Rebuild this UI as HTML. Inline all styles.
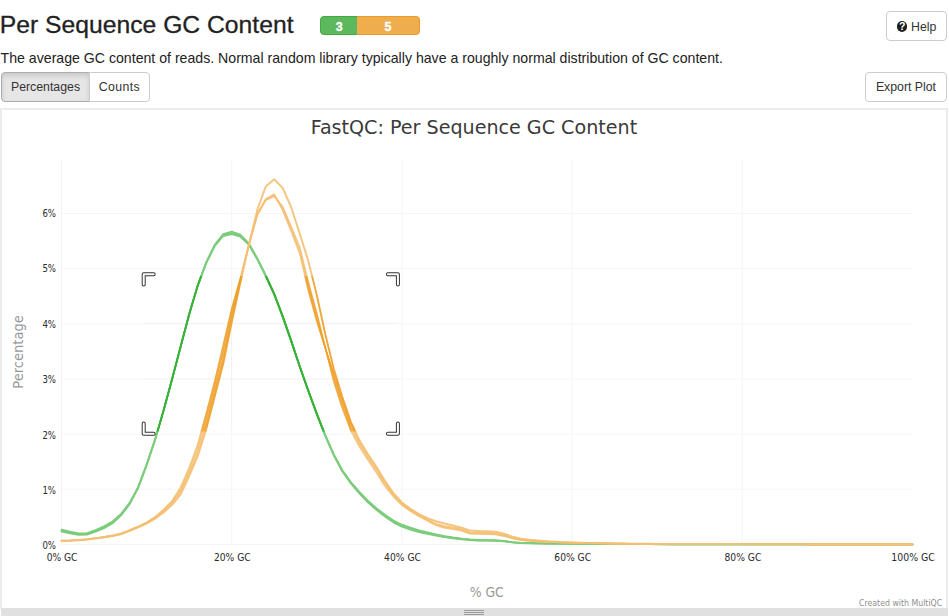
<!DOCTYPE html>
<html lang="en"><head><meta charset="utf-8"><title>Per Sequence GC Content</title>
<style>
html,body{margin:0;padding:0;background:#fff;}
body{width:949px;height:616px;overflow:hidden;position:relative;font-family:"Liberation Sans",Arial,Helvetica,sans-serif;color:#333;}
.abs{position:absolute;margin:0;white-space:nowrap;line-height:1;}
h3.title{left:-0.2px;top:13.3px;font-size:24.7px;font-weight:normal;color:#222;-webkit-text-stroke:0.3px #222;}
.status{left:320.3px;top:15.6px;width:99.6px;height:19.3px;border-radius:4px;overflow:hidden;display:flex;}
.status span{display:block;height:100%;box-sizing:border-box;color:#fff;font-weight:bold;font-size:12.5px;line-height:20.4px;text-align:center;-webkit-text-stroke:0.35px #fff;}
.status .s1{width:36.8px;background:#5cb85c;border:1px solid #3faa3f;border-right:0;border-radius:4px 0 0 4px;}
.status .s2{width:62.8px;background:#f0ad4e;border:1px solid #e89c25;border-left:0;border-radius:0 4px 4px 0;}
.btn{position:absolute;box-sizing:border-box;background:#fff;border:1px solid #ccc;border-radius:4px;font-size:12.3px;line-height:18px;padding:5px 10px;color:#333;white-space:nowrap;font-family:"Liberation Sans",Arial,sans-serif;}
.help{left:885.7px;top:11.3px;width:60.9px;height:29.5px;padding:0;}
.help .tx{position:absolute;left:24.4px;top:8.8px;line-height:1;}
.help .ic{position:absolute;left:10.0px;top:8.6px;width:10.8px;height:10.8px;border-radius:50%;background:#1e1e1e;color:#fff;font-weight:bold;font-size:10.5px;line-height:10.6px;text-align:center;}
p.desc{left:0.6px;top:50.75px;font-size:14.14px;color:#222;}
.grp{position:absolute;left:0.6px;top:71.5px;height:30.3px;display:flex;}
.grp .btn{position:static;height:30.3px;padding-top:5.4px;}
.grp .b1{width:89.6px;padding-left:9.4px;background:#e6e6e6;border-color:#adadad;border-radius:4px 0 0 4px;box-shadow:inset 0 3px 5px rgba(0,0,0,.125);}
.grp .b2{width:60.8px;margin-left:-1px;border-radius:0 4px 4px 0;padding-left:8.6px;letter-spacing:0.38px;}
.export{left:864.9px;top:71.5px;width:81.7px;height:30.3px;padding-left:10px;padding-top:5.4px;}
.plot{position:absolute;left:0;top:108px;width:947.5px;height:500.5px;box-sizing:border-box;border:2px solid #ececec;border-bottom:0;}
.handle{position:absolute;left:1px;top:608.3px;width:946.5px;height:10px;background:#e0e0e0;}
.handle i{position:absolute;left:462.8px;width:20px;height:1px;background:#9a9a9a;}
svg.chart{position:absolute;left:0;top:0;}
.chart text{font-family:"DejaVu Sans",Verdana,sans-serif;}
.chart .ttl{font-size:19.6px;fill:#3a3a3a;}
.grid line{stroke:#f0f0f0;stroke-width:1;}
polyline{fill:none;stroke-width:2;stroke-linejoin:round;stroke-linecap:round;}
polyline.g{stroke:#38b238;stroke-width:1.75;}
polyline.o{stroke:#ef9e28;stroke-width:1.6;stroke-opacity:.85;}
polyline.oa{stroke-width:1.9;stroke-opacity:.92;}
.ov{fill:#fff;fill-opacity:.34;}
.brO{fill:none;stroke:#333;stroke-width:4;stroke-linecap:round;stroke-linejoin:round;}
.brI{fill:none;stroke:#fff;stroke-width:2;stroke-linecap:round;stroke-linejoin:round;}
.yl text,.xl text{font-size:10.5px;fill:#2a2a2a;}
.ax{font-size:13.5px;fill:#999;}
.cred{font-size:9px;fill:#8e8e8e;}
</style></head><body>
<h3 class="abs title">Per Sequence GC Content</h3>
<div class="abs status"><span class="s1">3</span><span class="s2">5</span></div>
<div class="btn help"><span class="ic">?</span><span class="tx">Help</span></div>
<p class="abs desc">The average GC content of reads. Normal random library typically have a roughly normal distribution of GC content.</p>
<div class="grp"><div class="btn b1">Percentages</div><div class="btn b2">Counts</div></div>
<div class="btn export">Export Plot</div>
<div class="plot"></div>
<div class="handle"><i style="top:1.5px"></i><i style="top:3.7px"></i><i style="top:5.8px"></i></div>
<svg class="chart" width="949" height="616" viewBox="0 0 949 616">
<text class="ttl" x="473.9" y="134.3" text-anchor="middle" textLength="326.5" lengthAdjust="spacingAndGlyphs">FastQC: Per Sequence GC Content</text>
<g class="grid"><line x1="61.5" x2="912.8" y1="544.4" y2="544.4"/><line x1="61.5" x2="912.8" y1="489.2" y2="489.2"/><line x1="61.5" x2="912.8" y1="434.1" y2="434.1"/><line x1="61.5" x2="912.8" y1="378.9" y2="378.9"/><line x1="61.5" x2="912.8" y1="323.8" y2="323.8"/><line x1="61.5" x2="912.8" y1="268.6" y2="268.6"/><line x1="61.5" x2="912.8" y1="213.5" y2="213.5"/><line x1="61.5" x2="61.5" y1="159.3" y2="544.4"/><line x1="231.7" x2="231.7" y1="159.3" y2="544.4"/><line x1="401.9" x2="401.9" y1="159.3" y2="544.4"/><line x1="572.1" x2="572.1" y1="159.3" y2="544.4"/><line x1="742.3" x2="742.3" y1="159.3" y2="544.4"/></g>
<g class="lines"><polyline class="g" points="61.50,529.67 70.01,531.72 78.52,533.40 87.03,533.13 95.54,530.03 104.05,526.30 112.56,521.43 121.07,513.83 129.58,502.91 138.09,487.04 146.60,464.46 155.11,439.13 163.62,409.97 172.13,378.54 180.64,346.24 189.15,314.02 197.66,285.25 206.17,262.32 214.68,244.81 223.19,233.97 231.70,231.50 240.21,234.55 248.72,243.09 257.23,258.11 265.74,275.11 274.25,293.65 282.76,316.14 291.27,340.65 299.78,366.16 308.29,390.22 316.80,413.34 325.31,435.00 333.82,454.34 342.33,470.15 350.84,482.02 359.35,491.88 367.86,500.63 376.37,508.13 384.88,514.71 393.39,520.48 401.90,524.68 410.41,527.68 418.92,530.26 427.43,532.41 435.94,534.28 444.45,536.00 452.96,537.47 461.47,538.57 469.98,539.41 478.49,539.96 487.00,540.11 495.51,540.24 504.02,540.99 512.53,542.17 521.04,542.91 529.55,543.14 538.06,543.32 546.57,543.46 555.08,543.57 563.59,543.66 572.10,543.74 580.61,543.81 589.12,543.87 597.63,543.94 606.14,544.00 614.65,544.05 623.16,544.10 631.67,544.14 640.18,544.18 648.69,544.20 657.20,544.22 665.71,544.23 674.22,544.25 682.73,544.26 691.24,544.27 699.75,544.28 708.26,544.29 716.77,544.30 725.28,544.31 733.79,544.31 742.30,544.32 750.81,544.33 759.32,544.34 767.83,544.34 776.34,544.35 784.85,544.36 793.36,544.36 801.87,544.37 810.38,544.37 818.89,544.38 827.40,544.38 835.91,544.38 844.42,544.39 852.93,544.39 861.44,544.39 869.95,544.40 878.46,544.40 886.97,544.40 895.48,544.40 903.99,544.40 912.50,544.40"/><polyline class="g" points="61.50,531.56 70.01,533.37 78.52,535.00 87.03,534.72 95.54,531.75 104.05,528.31 112.56,523.25 121.07,515.41 129.58,504.27 138.09,488.16 146.60,465.41 155.11,440.03 163.62,410.79 172.13,379.36 180.64,347.02 189.15,314.84 197.66,286.16 206.17,263.41 214.68,246.16 223.19,236.04 231.70,234.10 240.21,236.57 248.72,244.58 257.23,259.34 265.74,276.27 274.25,294.73 282.76,317.10 291.27,341.59 299.78,367.09 308.29,391.20 316.80,414.33 325.31,436.07 333.82,455.49 342.33,471.48 350.84,483.50 359.35,493.44 367.86,502.28 376.37,509.88 384.88,516.50 393.39,522.39 401.90,526.79 410.41,529.75 418.92,532.06 427.43,533.97 435.94,535.61 444.45,537.11 452.96,538.41 461.47,539.37 469.98,540.11 478.49,540.59 487.00,540.73 495.51,540.84 504.02,541.45 512.53,542.47 521.04,543.13 529.55,543.32 538.06,543.47 546.57,543.59 555.08,543.69 563.59,543.77 572.10,543.83 580.61,543.89 589.12,543.95 597.63,544.00 606.14,544.06 614.65,544.10 623.16,544.14 631.67,544.18 640.18,544.21 648.69,544.23 657.20,544.25 665.71,544.26 674.22,544.27 682.73,544.28 691.24,544.29 699.75,544.30 708.26,544.30 716.77,544.31 725.28,544.32 733.79,544.33 742.30,544.33 750.81,544.34 759.32,544.35 767.83,544.35 776.34,544.36 784.85,544.36 793.36,544.37 801.87,544.37 810.38,544.38 818.89,544.38 827.40,544.38 835.91,544.39 844.42,544.39 852.93,544.39 861.44,544.39 869.95,544.40 878.46,544.40 886.97,544.40 895.48,544.40 903.99,544.40 912.50,544.40"/><polyline class="g" points="61.50,530.61 70.01,532.54 78.52,534.20 87.03,533.92 95.54,530.89 104.05,527.30 112.56,522.34 121.07,514.62 129.58,503.59 138.09,487.60 146.60,464.93 155.11,439.58 163.62,410.38 172.13,378.95 180.64,346.63 189.15,314.43 197.66,285.71 206.17,262.87 214.68,245.49 223.19,235.01 231.70,232.80 240.21,235.56 248.72,243.83 257.23,258.72 265.74,275.69 274.25,294.19 282.76,316.62 291.27,341.12 299.78,366.62 308.29,390.71 316.80,413.84 325.31,435.53 333.82,454.91 342.33,470.82 350.84,482.76 359.35,492.66 367.86,501.45 376.37,509.01 384.88,515.61 393.39,521.44 401.90,525.74 410.41,528.72 418.92,531.16 427.43,533.19 435.94,534.95 444.45,536.55 452.96,537.94 461.47,538.97 469.98,539.76 478.49,540.27 487.00,540.42 495.51,540.54 504.02,541.22 512.53,542.32 521.04,543.02 529.55,543.23 538.06,543.39 546.57,543.52 555.08,543.63 563.59,543.71 572.10,543.78 580.61,543.85 589.12,543.91 597.63,543.97 606.14,544.03 614.65,544.08 623.16,544.12 631.67,544.16 640.18,544.19 648.69,544.22 657.20,544.23 665.71,544.25 674.22,544.26 682.73,544.27 691.24,544.28 699.75,544.29 708.26,544.30 716.77,544.30 725.28,544.31 733.79,544.32 742.30,544.33 750.81,544.34 759.32,544.34 767.83,544.35 776.34,544.35 784.85,544.36 793.36,544.37 801.87,544.37 810.38,544.37 818.89,544.38 827.40,544.38 835.91,544.39 844.42,544.39 852.93,544.39 861.44,544.39 869.95,544.40 878.46,544.40 886.97,544.40 895.48,544.40 903.99,544.40 912.50,544.40"/><polyline class="o" points="61.50,540.60 70.01,540.34 78.52,539.85 87.03,539.07 95.54,537.95 104.05,536.74 112.56,535.40 121.07,533.40 129.58,529.95 138.09,526.39 146.60,522.46 155.11,517.27 163.62,510.80 172.13,502.84 180.64,491.92 189.15,472.95 197.66,452.39 206.17,424.33 214.68,391.47 223.19,358.06 231.70,316.65 240.21,281.43 248.72,245.11 257.23,214.19 265.74,199.04 274.25,194.30 282.76,210.35 291.27,231.35 299.78,253.73 308.29,290.13 316.80,321.17 325.31,348.13 333.82,373.63 342.33,400.11 350.84,424.26 359.35,441.58 367.86,455.16 376.37,467.98 384.88,481.79 393.39,493.95 401.90,503.67 410.41,509.94 418.92,514.90 427.43,519.25 435.94,523.65 444.45,526.10 452.96,527.32 461.47,529.25 469.98,532.30 478.49,532.67 487.00,532.86 495.51,533.28 504.02,535.19 512.53,537.87 521.04,539.64 529.55,540.56 538.06,541.19 546.57,541.65 555.08,542.04 563.59,542.36 572.10,542.63 580.61,542.84 589.12,543.02 597.63,543.19 606.14,543.35 614.65,543.49 623.16,543.62 631.67,543.73 640.18,543.82 648.69,543.89 657.20,543.93 665.71,543.96 674.22,543.99 682.73,544.02 691.24,544.05 699.75,544.08 708.26,544.10 716.77,544.13 725.28,544.15 733.79,544.17 742.30,544.20 750.81,544.22 759.32,544.24 767.83,544.25 776.34,544.27 784.85,544.29 793.36,544.30 801.87,544.32 810.38,544.33 818.89,544.34 827.40,544.35 835.91,544.36 844.42,544.37 852.93,544.38 861.44,544.38 869.95,544.39 878.46,544.39 886.97,544.40 895.48,544.40 903.99,544.40 912.50,544.40"/><polyline class="o" points="61.50,540.81 70.01,540.56 78.52,540.09 87.03,539.33 95.54,538.25 104.05,537.10 112.56,535.80 121.07,533.77 129.58,530.35 138.09,526.85 146.60,522.66 155.11,517.11 163.62,510.13 172.13,501.77 180.64,489.52 189.15,470.06 197.66,448.17 206.17,418.78 214.68,386.03 223.19,351.32 231.70,311.69 240.21,279.89 248.72,245.49 257.23,214.60 265.74,199.71 274.25,195.30 282.76,208.54 291.27,229.28 299.78,250.44 308.29,286.53 316.80,317.77 325.31,348.15 333.82,377.55 342.33,404.19 350.84,427.56 359.35,444.14 367.86,457.53 376.37,470.38 384.88,484.01 393.39,495.35 401.90,504.34 410.41,510.55 418.92,515.58 427.43,520.01 435.94,524.42 444.45,527.00 452.96,528.22 461.47,529.97 469.98,532.97 478.49,533.33 487.00,533.51 495.51,533.88 504.02,535.64 512.53,538.19 521.04,539.89 529.55,540.77 538.06,541.37 546.57,541.80 555.08,542.17 563.59,542.48 572.10,542.73 580.61,542.92 589.12,543.10 597.63,543.26 606.14,543.41 614.65,543.54 623.16,543.66 631.67,543.77 640.18,543.85 648.69,543.92 657.20,543.96 665.71,543.99 674.22,544.02 682.73,544.04 691.24,544.07 699.75,544.10 708.26,544.12 716.77,544.14 725.28,544.17 733.79,544.19 742.30,544.21 750.81,544.23 759.32,544.24 767.83,544.26 776.34,544.28 784.85,544.29 793.36,544.31 801.87,544.32 810.38,544.33 818.89,544.34 827.40,544.35 835.91,544.36 844.42,544.37 852.93,544.38 861.44,544.38 869.95,544.39 878.46,544.39 886.97,544.40 895.48,544.40 903.99,544.40 912.50,544.40"/><polyline class="o" points="61.50,541.03 70.01,540.78 78.52,540.33 87.03,539.59 95.54,538.56 104.05,537.47 112.56,536.21 121.07,534.16 129.58,530.81 138.09,527.34 146.60,522.89 155.11,517.00 163.62,509.62 172.13,500.88 180.64,487.17 189.15,467.71 197.66,444.52 206.17,414.08 214.68,381.49 223.19,345.52 231.70,308.60 240.21,278.80 248.72,245.87 257.23,215.02 265.74,200.39 274.25,196.30 282.76,206.81 291.27,226.80 299.78,247.40 308.29,282.20 316.80,313.58 325.31,347.39 333.82,381.61 342.33,407.99 350.84,430.51 359.35,446.52 367.86,459.75 376.37,472.64 384.88,486.02 393.39,496.62 401.90,505.03 410.41,511.18 418.92,516.27 427.43,520.77 435.94,525.20 444.45,527.91 452.96,529.13 461.47,530.68 469.98,533.63 478.49,533.99 487.00,534.16 495.51,534.49 504.02,536.09 512.53,538.51 521.04,540.15 529.55,540.98 538.06,541.54 546.57,541.95 555.08,542.30 563.59,542.59 572.10,542.83 580.61,543.01 589.12,543.17 597.63,543.33 606.14,543.47 614.65,543.59 623.16,543.71 631.67,543.81 640.18,543.89 648.69,543.95 657.20,543.99 665.71,544.01 674.22,544.04 682.73,544.07 691.24,544.09 699.75,544.11 708.26,544.14 716.77,544.16 725.28,544.18 733.79,544.20 742.30,544.22 750.81,544.24 759.32,544.25 767.83,544.27 776.34,544.29 784.85,544.30 793.36,544.31 801.87,544.32 810.38,544.34 818.89,544.35 827.40,544.36 835.91,544.36 844.42,544.37 852.93,544.38 861.44,544.38 869.95,544.39 878.46,544.39 886.97,544.40 895.48,544.40 903.99,544.40 912.50,544.40"/><polyline class="o oa" points="61.50,540.82 70.01,540.57 78.52,540.11 87.03,539.38 95.54,538.32 104.05,537.19 112.56,535.92 121.07,534.06 129.58,530.83 138.09,527.46 146.60,523.64 155.11,518.65 163.62,512.49 172.13,504.79 180.64,494.46 189.15,476.24 197.66,456.38 206.17,429.34 214.68,396.57 223.19,363.84 231.70,322.37 240.21,283.31 248.72,245.49 257.23,210.19 265.74,186.48 274.25,179.31 282.76,188.13 291.27,207.46 299.78,233.77 308.29,260.96 316.80,295.12 325.31,334.19 333.82,369.07 342.33,397.08 350.84,421.83 359.35,440.09 367.86,453.97 376.37,466.75 384.88,480.74 393.39,493.03 401.90,502.41 410.41,508.80 418.92,514.03 427.43,518.18 435.94,521.21 444.45,523.48 452.96,525.48 461.47,527.78 469.98,530.44 478.49,530.93 487.00,531.19 495.51,531.70 504.02,533.77 512.53,536.72 521.04,538.72 529.55,539.78 538.06,540.54 546.57,541.13 555.08,541.66 563.59,542.10 572.10,542.45 580.61,542.70 589.12,542.90 597.63,543.09 606.14,543.25 614.65,543.40 623.16,543.53 631.67,543.64 640.18,543.73 648.69,543.80 657.20,543.85 665.71,543.88 674.22,543.92 682.73,543.95 691.24,543.99 699.75,544.02 708.26,544.05 716.77,544.08 725.28,544.10 733.79,544.13 742.30,544.16 750.81,544.18 759.32,544.20 767.83,544.22 776.34,544.24 784.85,544.26 793.36,544.28 801.87,544.30 810.38,544.31 818.89,544.33 827.40,544.34 835.91,544.35 844.42,544.36 852.93,544.37 861.44,544.38 869.95,544.38 878.46,544.39 886.97,544.39 895.48,544.40 903.99,544.40 912.50,544.40"/></g>
<path class="ov" fill-rule="evenodd" d="M58,150H916V548H58Z M146,276H396V431.4H146Z"/>
<path class="brO" d="M153.7,274.2 L143.7,274.2 L143.7,284.5"/><path class="brI" d="M153.7,274.2 L143.7,274.2 L143.7,284.5"/><path class="brO" d="M387.9,274.2 L397.9,274.2 L397.9,284.5"/><path class="brI" d="M387.9,274.2 L397.9,274.2 L397.9,284.5"/><path class="brO" d="M153.7,433.7 L143.7,433.7 L143.7,423.4"/><path class="brI" d="M153.7,433.7 L143.7,433.7 L143.7,423.4"/><path class="brO" d="M387.9,433.7 L397.9,433.7 L397.9,423.4"/><path class="brI" d="M387.9,433.7 L397.9,433.7 L397.9,423.4"/>
<g class="yl"><text x="56.0" y="549.2" text-anchor="end" textLength="13.6" lengthAdjust="spacingAndGlyphs">0%</text><text x="56.0" y="493.9" text-anchor="end" textLength="13.6" lengthAdjust="spacingAndGlyphs">1%</text><text x="56.0" y="438.5" text-anchor="end" textLength="13.6" lengthAdjust="spacingAndGlyphs">2%</text><text x="56.0" y="383.2" text-anchor="end" textLength="13.6" lengthAdjust="spacingAndGlyphs">3%</text><text x="56.0" y="327.8" text-anchor="end" textLength="13.6" lengthAdjust="spacingAndGlyphs">4%</text><text x="56.0" y="272.4" text-anchor="end" textLength="13.6" lengthAdjust="spacingAndGlyphs">5%</text><text x="56.0" y="217.1" text-anchor="end" textLength="13.6" lengthAdjust="spacingAndGlyphs">6%</text></g>
<g class="xl"><text x="62.1" y="560.8" text-anchor="middle" textLength="30.7" lengthAdjust="spacingAndGlyphs">0% GC</text><text x="232.3" y="560.8" text-anchor="middle" textLength="36.8" lengthAdjust="spacingAndGlyphs">20% GC</text><text x="402.5" y="560.8" text-anchor="middle" textLength="36.8" lengthAdjust="spacingAndGlyphs">40% GC</text><text x="572.7" y="560.8" text-anchor="middle" textLength="36.8" lengthAdjust="spacingAndGlyphs">60% GC</text><text x="742.9" y="560.8" text-anchor="middle" textLength="36.8" lengthAdjust="spacingAndGlyphs">80% GC</text><text x="913.1" y="560.8" text-anchor="middle" textLength="43.5" lengthAdjust="spacingAndGlyphs">100% GC</text></g>
<text class="ax" transform="translate(22.9,351.95) rotate(-90)" text-anchor="middle" textLength="73.6" lengthAdjust="spacingAndGlyphs">Percentage</text>
<text class="ax" x="486.75" y="596.9" text-anchor="middle" textLength="34.2" lengthAdjust="spacingAndGlyphs">% GC</text>
<text class="cred" x="942.2" y="606.1" text-anchor="end" textLength="83.2" lengthAdjust="spacingAndGlyphs">Created with MultiQC</text>
</svg>
</body></html>
